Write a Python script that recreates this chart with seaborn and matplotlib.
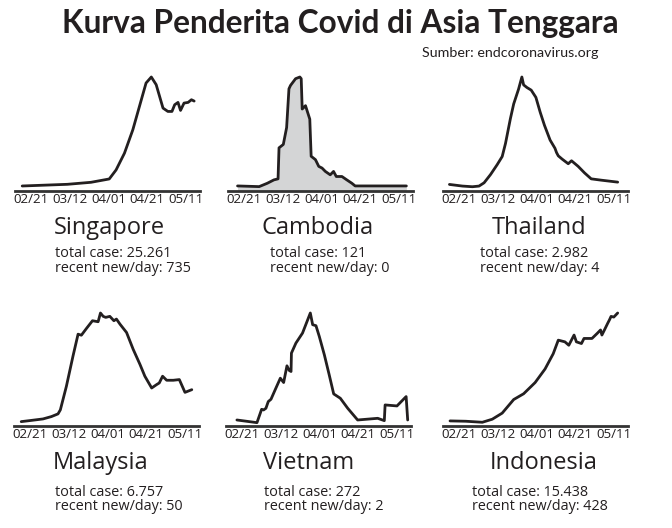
import matplotlib
matplotlib.use("Agg")
import matplotlib.pyplot as plt
import seaborn as sns
import pandas as pd

# ---------------- data (relative daily-case curve) ----------------
countries = ["Singapore", "Cambodia", "Thailand", "Malaysia", "Vietnam", "Indonesia"]
total_case = ["25.261", "121", "2.982", "6.757", "272", "15.438"]
recent_new = ["735", "0", "4", "50", "2", "428"]

# days counted from 02/21
sg_days = [-4.3, 18.9, 31, 40.4, 43.9, 48.2, 52.5, 55.9, 59.3, 62, 64.5, 68, 70.5, 72.6, 74,
           75.7, 77, 78.8, 80.9, 82.6, 84]
sg_vals = [15, 20, 26, 36, 63, 113, 183, 253, 323, 341, 318, 248, 238, 238, 258,
           265, 241, 263, 265, 273, 269]

kh_days = [-3.1, 8, 12.2, 15.6, 17.7, 18.2, 20.4, 22.1, 23.3, 24.1, 26.7, 28.9, 29.6, 30.1,
           31.8, 34, 34.7, 36.9, 38.6, 40.3, 42, 44.5, 46.2, 47.6, 50.5, 53, 55.6, 57.3, 83.6]
kh_vals = [15, 13, 23, 33, 36, 128, 138, 188, 303, 313, 333, 338, 333, 243,
           253, 213, 103, 93, 73, 68, 58, 48, 58, 43, 43, 33, 23, 15, 15]

th_days = [-4.7, 2, 7.1, 10.5, 13.1, 16.4, 19.8, 22.4, 24.1, 26.6, 28.3, 30.8, 32.5, 33.4,
           35.1, 37.3, 39.7, 41.9, 44.1, 47, 49.5, 50.3, 51.2, 53.2, 56.3, 58, 61.4, 64.7,
           68.1, 73.2, 81.7]
th_vals = [20, 15, 13, 15, 25, 50, 80, 105, 145, 220, 265, 310, 347, 323,
           315, 307, 285, 240, 200, 155, 130, 117, 107, 97, 83, 92, 75, 55,
           37, 33, 27]

my_days = [-4.3, 0, 6.9, 11.2, 14.6, 15.8, 18.9, 22.3, 24.9, 26.6, 29.2, 32.3, 35.2, 36.4,
           37.8, 39.1, 41.2, 43.3, 44.6, 46.4, 49.8, 53.2, 56.7, 59.2, 62.7, 65.2, 66.6,
           68.3, 70.4, 73.8, 76.9, 79.8, 83.3]
my_vals = [13, 16, 21, 28, 36, 48, 118, 208, 273, 270, 290, 313, 310, 336,
           326, 323, 326, 313, 318, 303, 278, 228, 183, 148, 113, 123, 128,
           148, 136, 136, 138, 100, 108]

vn_days = [-2.4, 7.9, 10.3, 11.3, 12.5, 13.7, 15.1, 17.6, 19.9, 21.6, 23.3, 24.5, 25.4, 25.6,
           27.9, 31.3, 35.3, 36.5, 38.2, 39.9, 42.5, 45.0, 47.3, 50.7, 54.5, 59.6, 69.9,
           73.3, 73.7, 79.8, 84.5, 85.3]
vn_vals = [18, 10, 50, 48, 53, 73, 80, 113, 143, 130, 180, 166, 163, 218,
           248, 278, 338, 303, 300, 268, 213, 153, 96, 83, 53, 18, 23,
           16, 63, 60, 88, 18]

id_days = [-4.4, 3.7, 12.2, 17.3, 22.4, 28.3, 33.4, 39.3, 44.4, 48.6, 51.2, 54.6, 56.6, 59.3,
           60.5, 63.1, 64.4, 68.5, 71.2, 72.9, 73.6, 74.9, 76.6, 77.5, 78.3, 79.7, 81.7]
id_vals = [15, 14, 11, 20, 38, 78, 95, 128, 168, 213, 253, 248, 238, 268,
           248, 243, 258, 258, 273, 283, 268, 283, 303, 313, 323, 321, 333]

tick_days = [0, 20, 40, 60, 80]
tick_labels = ["02/21", "03/12", "04/01", "04/21", "05/11"]

series = [(sg_days, sg_vals), (kh_days, kh_vals), (th_days, th_vals),
          (my_days, my_vals), (vn_days, vn_vals), (id_days, id_vals)]
filled = [False, True, False, False, False, False]

# ---------------- style ----------------
sns.set_theme(style="white")
plt.rcParams["font.family"] = ["Open Sans", "DejaVu Sans"]
INK = "#231f20"

W, H = 672, 528
fig = plt.figure(figsize=(W / 100, H / 100), dpi=100)
fig.patch.set_facecolor("white")

def fx(px):
    return px / W

def fy(py):
    return 1 - py / H

# layout in pixels: (axes left, axis-line y, axes height, name centre x, stats left x, name y, stats y1, stats y2)
layout = [
    (15, 191, 114, 109, 55, 228, 253, 269),
    (228, 191, 114, 318, 270, 228, 253, 269),
    (443, 191, 114, 539, 480, 228, 253, 269),
    (14, 426, 113, 101, 55, 463, 492, 507),
    (226, 426, 113, 309, 264, 463, 492, 507),
    (443, 426, 113, 544, 472, 463, 492, 507),
]
AX_W = 185

for i, name in enumerate(countries):
    left, base, hgt, nx, sx, ny, sy1, sy2 = layout[i]
    ax = fig.add_axes([fx(left), fy(base), AX_W / W, hgt / H])
    d, v = series[i]
    df = pd.DataFrame({"day": d, "cases": v})
    if filled[i]:
        ax.fill_between(df["day"], df["cases"], 0, color="#d4d5d6", linewidth=0, zorder=1)
    sns.lineplot(data=df, x="day", y="cases", ax=ax, color=INK, linewidth=2.0,
                 estimator=None, sort=False, zorder=3, clip_on=False)
    ax.set_xlim(-8, 87)
    ax.set_ylim(0, max(v))
    ax.set_xticks(tick_days)
    ax.set_xticklabels(tick_labels, fontsize=9.6, color=INK)
    ax.set_yticks([])
    ax.set_xlabel("")
    ax.set_ylabel("")
    ax.tick_params(axis="x", length=0, pad=1.2)
    for s in ["top", "left", "right"]:
        ax.spines[s].set_visible(False)
    ax.spines["bottom"].set_linewidth(2.0)
    ax.spines["bottom"].set_color("#333333")
    ax.patch.set_alpha(0)

    fig.text(fx(nx), fy(ny), name, fontsize=17, color=INK, ha="center", va="center")
    fig.text(fx(sx), fy(sy1), f"total case: {total_case[i]}", fontsize=10.4, color=INK,
             ha="left", va="center")
    fig.text(fx(sx), fy(sy2), f"recent new/day: {recent_new[i]}", fontsize=10.4, color=INK,
             ha="left", va="center")

fig.text(fx(340), fy(24), "Kurva Penderita Covid di Asia Tenggara",
         family=["Lato", "DejaVu Sans"], fontweight="bold",
         fontsize=22.8, color=INK, ha="center", va="center")
fig.text(fx(599), fy(53), "Sumber: endcoronavirus.org",
         family=["Lato", "DejaVu Sans"],
         fontsize=10.3, color=INK, ha="right", va="center")

fig.savefig("out.png", dpi=100, facecolor="white")
